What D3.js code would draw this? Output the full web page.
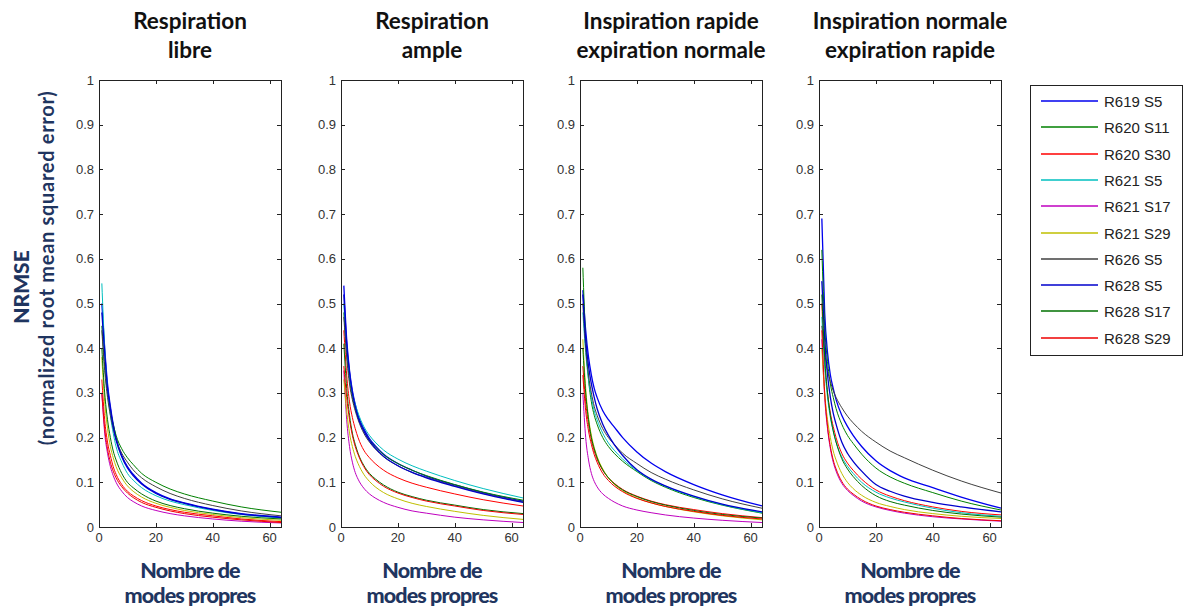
<!DOCTYPE html>
<html><head><meta charset="utf-8">
<script src="https://cdn.jsdelivr.net/npm/d3@7"></script>
<style>body{margin:0;background:#fff}svg{display:block}</style>
</head><body><svg id="c" width="1196" height="610"></svg>
<script>
// ---------- data ----------
const modes = [1,2,3,4,5,6,8,10,12,15,20,25,30,40,50,64];
const seriesNames = ["R619 S5","R620 S11","R620 S30","R621 S5","R621 S17","R621 S29","R626 S5","R628 S5","R628 S17","R628 S29"];
const panelTitles = [["Respiration","libre"],["Respiration","ample"],["Inspiration rapide","expiration normale"],["Inspiration normale","expiration rapide"]];
const xTicks = [0,20,40,60];
const yTicks = [0,0.1,0.2,0.3,0.4,0.5,0.6,0.7,0.8,0.9,1];
const yTickLabels = ["0","0.1","0.2","0.3","0.4","0.5","0.6","0.7","0.8","0.9","1"];

const libre = [
 [0.50,0.40,0.32,0.27,0.23,0.20,0.16,0.135,0.118,0.098,0.077,0.063,0.054,0.040,0.030,0.022],
 [0.45,0.36,0.30,0.26,0.23,0.205,0.175,0.155,0.140,0.120,0.100,0.085,0.074,0.058,0.045,0.033],
 [0.33,0.24,0.19,0.16,0.135,0.118,0.095,0.080,0.070,0.059,0.047,0.039,0.033,0.025,0.018,0.012],
 [0.545,0.40,0.31,0.25,0.21,0.18,0.145,0.120,0.105,0.088,0.070,0.058,0.050,0.037,0.028,0.020],
 [0.30,0.21,0.165,0.135,0.115,0.100,0.080,0.066,0.057,0.047,0.037,0.030,0.025,0.018,0.013,0.009],
 [0.38,0.28,0.22,0.18,0.155,0.135,0.110,0.092,0.080,0.067,0.053,0.044,0.037,0.028,0.021,0.015],
 [0.44,0.35,0.29,0.25,0.22,0.195,0.165,0.145,0.128,0.110,0.090,0.075,0.064,0.048,0.036,0.025],
 [0.48,0.39,0.31,0.265,0.225,0.195,0.157,0.132,0.115,0.096,0.075,0.062,0.053,0.039,0.029,0.021],
 [0.40,0.30,0.24,0.20,0.17,0.15,0.120,0.100,0.088,0.074,0.058,0.048,0.041,0.031,0.024,0.018],
 [0.30,0.22,0.175,0.145,0.125,0.110,0.090,0.076,0.066,0.055,0.044,0.036,0.030,0.022,0.016,0.010]
];
const ample = [
 [0.54,0.42,0.35,0.305,0.275,0.25,0.22,0.198,0.182,0.163,0.142,0.127,0.114,0.094,0.077,0.058],
 [0.48,0.39,0.33,0.29,0.265,0.245,0.215,0.195,0.180,0.162,0.142,0.127,0.115,0.095,0.078,0.060],
 [0.44,0.34,0.28,0.245,0.22,0.20,0.172,0.155,0.142,0.127,0.110,0.098,0.089,0.074,0.061,0.047],
 [0.50,0.40,0.34,0.30,0.275,0.255,0.225,0.205,0.190,0.172,0.152,0.137,0.125,0.104,0.086,0.065],
 [0.35,0.24,0.18,0.145,0.122,0.107,0.087,0.074,0.065,0.055,0.044,0.036,0.031,0.022,0.016,0.010],
 [0.33,0.26,0.21,0.18,0.158,0.142,0.118,0.102,0.090,0.077,0.063,0.053,0.046,0.035,0.026,0.017],
 [0.47,0.38,0.32,0.285,0.26,0.24,0.21,0.19,0.175,0.157,0.137,0.122,0.111,0.092,0.075,0.056],
 [0.52,0.41,0.345,0.30,0.27,0.245,0.215,0.193,0.177,0.158,0.137,0.122,0.110,0.091,0.074,0.055],
 [0.41,0.31,0.25,0.21,0.185,0.165,0.138,0.120,0.108,0.094,0.078,0.068,0.060,0.049,0.039,0.030],
 [0.36,0.29,0.24,0.205,0.18,0.162,0.135,0.117,0.105,0.091,0.076,0.066,0.058,0.047,0.037,0.028]
];
const rapideNormale = [
 [0.53,0.44,0.38,0.34,0.31,0.29,0.26,0.24,0.224,0.20,0.168,0.143,0.124,0.095,0.072,0.047],
 [0.58,0.42,0.33,0.28,0.25,0.23,0.20,0.18,0.165,0.147,0.124,0.104,0.089,0.066,0.049,0.031],
 [0.36,0.28,0.23,0.195,0.17,0.152,0.127,0.110,0.098,0.084,0.069,0.058,0.050,0.039,0.030,0.021],
 [0.48,0.39,0.33,0.29,0.26,0.24,0.21,0.188,0.172,0.152,0.126,0.106,0.091,0.068,0.050,0.032],
 [0.30,0.20,0.15,0.12,0.102,0.090,0.074,0.064,0.056,0.047,0.038,0.032,0.027,0.020,0.015,0.010],
 [0.42,0.31,0.245,0.205,0.178,0.158,0.130,0.110,0.096,0.081,0.065,0.054,0.046,0.034,0.025,0.016],
 [0.50,0.40,0.34,0.30,0.27,0.25,0.22,0.20,0.185,0.165,0.142,0.122,0.107,0.083,0.063,0.042],
 [0.52,0.42,0.36,0.32,0.29,0.265,0.23,0.205,0.185,0.160,0.128,0.107,0.092,0.069,0.051,0.034],
 [0.40,0.30,0.24,0.20,0.175,0.155,0.128,0.110,0.097,0.083,0.068,0.057,0.049,0.037,0.028,0.020],
 [0.34,0.26,0.215,0.185,0.162,0.145,0.120,0.104,0.092,0.079,0.064,0.054,0.046,0.035,0.026,0.018]
];
const normaleRapide = [
 [0.69,0.48,0.39,0.34,0.31,0.285,0.25,0.225,0.205,0.18,0.148,0.126,0.110,0.088,0.067,0.042],
 [0.62,0.45,0.37,0.32,0.29,0.265,0.23,0.205,0.187,0.163,0.132,0.112,0.098,0.077,0.058,0.038],
 [0.50,0.37,0.30,0.255,0.225,0.20,0.165,0.143,0.127,0.107,0.083,0.069,0.059,0.045,0.035,0.027],
 [0.47,0.36,0.29,0.245,0.215,0.19,0.157,0.136,0.120,0.100,0.078,0.065,0.056,0.042,0.032,0.024],
 [0.42,0.29,0.22,0.175,0.145,0.125,0.098,0.082,0.071,0.058,0.045,0.037,0.031,0.023,0.018,0.013],
 [0.40,0.30,0.24,0.20,0.17,0.15,0.12,0.10,0.086,0.071,0.055,0.046,0.039,0.030,0.024,0.019],
 [0.45,0.39,0.35,0.325,0.305,0.29,0.267,0.248,0.233,0.214,0.19,0.17,0.155,0.127,0.103,0.076],
 [0.55,0.42,0.34,0.29,0.255,0.23,0.19,0.165,0.147,0.125,0.095,0.080,0.069,0.055,0.045,0.034],
 [0.52,0.38,0.30,0.25,0.215,0.19,0.153,0.130,0.113,0.093,0.070,0.057,0.049,0.037,0.029,0.022],
 [0.44,0.30,0.225,0.18,0.15,0.13,0.102,0.085,0.074,0.061,0.047,0.039,0.033,0.025,0.019,0.014]
];
const panelData = [libre, ample, rapideNormale, normaleRapide];

// ---------- styles ----------
const colors = ["#0000ee","#008000","#ff0000","#00bfbf","#bf00bf","#bfbf00","#404040","#0000cc","#007000","#ee0000"];
const navy = "#1f3560";
const panelLeft = [99, 341, 580, 819];
const panelW = 182, plotTop = 80, plotBottom = 527;

const svg = d3.select("#c");
const y = d3.scaleLinear().domain([0,1]).range([plotBottom, plotTop]);

panelData.forEach((data, p) => {
  const x0 = panelLeft[p];
  const x = d3.scaleLinear().domain([0,64]).range([x0, x0 + panelW]);
  const g = svg.append("g");

  const line = d3.line().x((d,i)=>x(modes[i])).y(d=>y(d)).curve(d3.curveMonotoneX);
  data.forEach((vals, s) => {
    g.append("path").attr("d", line(vals)).attr("fill","none")
      .attr("stroke", colors[s]).attr("stroke-width", (s===0||s===7) ? 1.3 : 1);
  });

  g.append("rect").attr("x", x0+0.5).attr("y", plotTop+0.5).attr("width", panelW).attr("height", plotBottom-plotTop)
    .attr("fill","none").attr("stroke","#222").attr("stroke-width",1);

  yTicks.forEach((t,i) => {
    const yy = Math.round(y(t))+0.5;
    g.append("line").attr("x1",x0).attr("x2",x0+4).attr("y1",yy).attr("y2",yy).attr("stroke","#222");
    g.append("line").attr("x1",x0+panelW-4).attr("x2",x0+panelW).attr("y1",yy).attr("y2",yy).attr("stroke","#222");
    g.append("text").attr("x", x0-5).attr("y", y(t)+4.5).attr("text-anchor","end")
      .attr("font-family","'Liberation Sans', Arial, sans-serif").attr("font-size",13).attr("fill","#333")
      .text(yTickLabels[i]);
  });
  xTicks.forEach(t => {
    const xx = Math.round(x(t))+0.5;
    g.append("line").attr("x1",xx).attr("x2",xx).attr("y1",plotBottom).attr("y2",plotBottom-4).attr("stroke","#222");
    g.append("line").attr("x1",xx).attr("x2",xx).attr("y1",plotTop).attr("y2",plotTop+4).attr("stroke","#222");
    g.append("text").attr("x", x(t)).attr("y", plotBottom+15).attr("text-anchor","middle")
      .attr("font-family","'Liberation Sans', Arial, sans-serif").attr("font-size",13).attr("fill","#333")
      .text(t);
  });

  const cx = x0 + panelW/2;
  panelTitles[p].forEach((t,i) => {
    g.append("text").attr("x", cx).attr("y", 29 + i*29).attr("text-anchor","middle")
      .attr("font-family","Lato, 'Open Sans', sans-serif").attr("font-weight",700).attr("font-size",22.5)
      .attr("fill","#111").text(t);
  });
  ["Nombre de","modes propres"].forEach((t,i) => {
    g.append("text").attr("x", cx).attr("y", 578 + i*25).attr("text-anchor","middle")
      .attr("font-family","Lato, 'Open Sans', sans-serif").attr("font-weight",900).attr("font-size",21.5)
      .attr("letter-spacing","-0.9").attr("fill",navy).text(t);
  });
});

svg.append("text").attr("transform","translate(29,287) rotate(-90)").attr("text-anchor","middle")
  .attr("font-family","Lato, 'Open Sans', sans-serif").attr("font-weight",900).attr("font-size",21)
  .attr("fill",navy).text("NRMSE");
svg.append("text").attr("transform","translate(54,268) rotate(-90)").attr("text-anchor","middle")
  .attr("font-family","Lato, 'Open Sans', sans-serif").attr("font-weight",700).attr("font-size",20)
  .attr("letter-spacing","0.7").attr("fill",navy).text("(normalized root mean squared error)");

const lg = svg.append("g");
lg.append("rect").attr("x",1030.5).attr("y",85.5).attr("width",152).attr("height",270)
  .attr("fill","#fff").attr("stroke","#222");
seriesNames.forEach((n,i) => {
  const yy = Math.round(101 + i*26.3);
  lg.append("line").attr("x1",1041).attr("x2",1098).attr("y1",yy).attr("y2",yy)
    .attr("stroke",colors[i]).attr("stroke-width",1.6);
  lg.append("text").attr("x",1104).attr("y",yy+5.5).attr("font-family","'Liberation Sans', Arial, sans-serif")
    .attr("font-size",15).attr("fill","#222").text(n);
});
</script></body></html>
